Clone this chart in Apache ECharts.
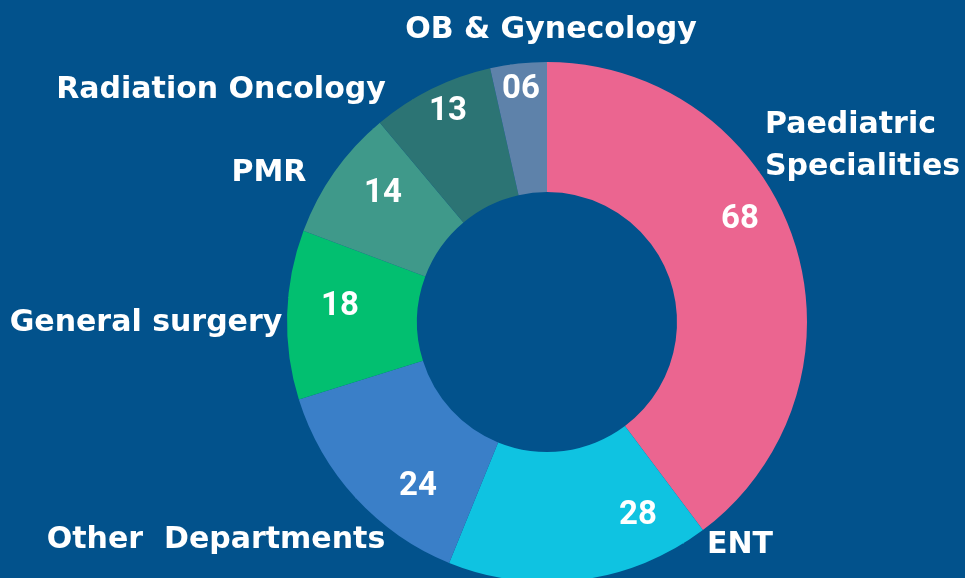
<!DOCTYPE html>
<html>
<head>
<meta charset="utf-8">
<script src="https://cdn.jsdelivr.net/npm/echarts@6/dist/echarts.min.js"></script>
<style>
  html, body { margin: 0; padding: 0; background: #02528c; }
  #chart { width: 965px; height: 578px; }
</style>
</head>
<body>
<div id="chart"></div>
<script>
var departments = ['Paediatric\nSpecialities', 'ENT', 'Other  Departments', 'General surgery', 'PMR', 'Radiation Oncology', 'OB & Gynecology'];
var counts = [68, 28, 24, 18, 14, 13, 6];
var colors = ['#eb6590', '#0fc3e1', '#3a7fc8', '#02bf70', '#3f998a', '#2c7474', '#5e82aa'];

// label anchors (value inside ring, name outside)
var valuePos = [[740, 220], [638, 516], [418, 487], [340, 307], [383, 194], [448, 112], [521, 90]];
var namePos = [[765, 146, 'left'], [740, 545, 'center'], [216, 540, 'center'], [146, 323, 'center'], [269, 173, 'center'], [221, 90, 'center'], [551, 30, 'center']];

gerarGrafico()
function gerarGrafico(){
    var dom = document.getElementById('chart');
    var myChart = echarts.init(dom, null, { renderer: 'canvas' });

    var pieData = departments.map(function (d, i) {
      return { name: d, value: counts[i], itemStyle: { color: colors[i] } };
    });

    var option = {
      backgroundColor: '#02528c',
      animation: false,
      series: [
        {
          type: 'pie',
          center: [547, 322],
          radius: [130, 260],
          startAngle: 90,
          clockwise: true,
          data: pieData,
          itemStyle: { borderWidth: 0 },
          label: {
            position: 'inside',
            color: '#ffffff',
            fontFamily: 'Roboto',
            fontWeight: 'bold',
            fontSize: 33,
            formatter: function (p) { return (p.value < 10 ? '0' : '') + p.value; }
          },
          labelLayout: function (p) {
            var pos = valuePos[p.dataIndex];
            return { x: pos[0], y: pos[1], align: 'center', verticalAlign: 'middle' };
          }
        },
        {
          type: 'pie',
          center: [547, 322],
          radius: [130, 260],
          startAngle: 90,
          clockwise: true,
          silent: true,
          data: departments.map(function (d, i) { return { name: d, value: counts[i] }; }),
          itemStyle: { color: 'transparent' },
          labelLine: { show: false },
          label: {
            color: '#ffffff',
            fontFamily: 'DejaVu Sans',
            fontWeight: 'bold',
            fontSize: 30,
            lineHeight: 42,
            overflow: 'none',
            width: 400,
            formatter: '{b}'
          },
          labelLayout: function (p) {
            var pos = namePos[p.dataIndex];
            return { x: pos[0], y: pos[1], align: pos[2], verticalAlign: 'middle' };
          }
        }
      ]
    };

    myChart.setOption(option);
    window.addEventListener('resize', myChart.resize);
}
</script>
</body>
</html>
